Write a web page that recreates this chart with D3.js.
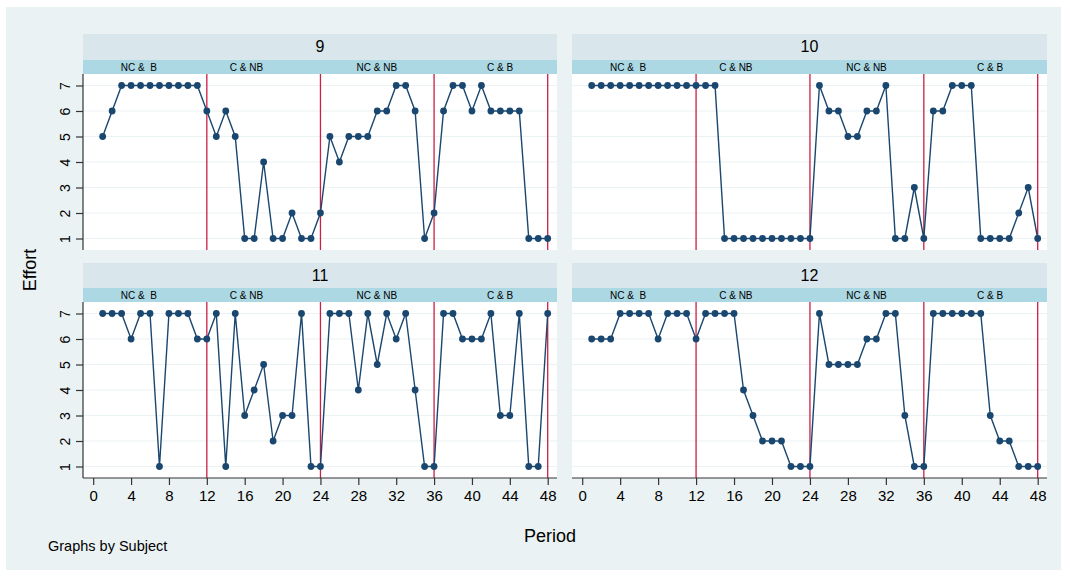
<!DOCTYPE html>
<html lang="en">
<head>
<meta charset="utf-8">
<title>Effort by period</title>
<script src="https://d3js.org/d3.v7.min.js"></script>
<style>
  body { margin: 0; background: #fff; }
  text { font-family: "Liberation Sans", Arial, sans-serif; fill: #000; }
</style>
</head>
<body>
<div id="chart"></div>
<script>
// data: effort per period (1..48) for each subject
const subjects = ["9", "10", "11", "12"];
const periods = d3.range(1, 49);
const effort9  = [5,6,7,7,7,7,7,7,7,7,7,6, 5,6,5,1,1,4,1,1,2,1,1,2, 5,4,5,5,5,6,6,7,7,6,1,2, 6,7,7,6,7,6,6,6,6,1,1,1];
const effort10 = [7,7,7,7,7,7,7,7,7,7,7,7, 7,7,1,1,1,1,1,1,1,1,1,1, 7,6,6,5,5,6,6,7,1,1,3,1, 6,6,7,7,7,1,1,1,1,2,3,1];
const effort11 = [7,7,7,6,7,7,1,7,7,7,6,6, 7,1,7,3,4,5,2,3,3,7,1,1, 7,7,7,4,7,5,7,6,7,4,1,1, 7,7,6,6,6,7,3,3,7,1,1,7];
const effort12 = [6,6,6,7,7,7,7,6,7,7,7,6, 7,7,7,7,4,3,2,2,2,1,1,1, 7,5,5,5,5,6,6,7,7,3,1,1, 7,7,7,7,7,7,3,2,2,1,1,1];
const series = [effort9, effort10, effort11, effort12];
const phaseLabels = ["NC &  B", "C & NB", "NC & NB", "C & B"];
const breaks = [12, 24, 36, 48];
const yTicks = [1, 2, 3, 4, 5, 6, 7];
const xTicks = d3.range(0, 49, 4);

// layout
const W = 1067, H = 575;
const navy = "#1a476f", red = "#cc1f45";
const cols = [{x0: 83, x1: 557}, {x0: 572, x1: 1047}];
const rows = [{top: 34, strip: 60, p0: 74, p1: 250}, {top: 263, strip: 288, p0: 302, p1: 478}];
const labelPos = [0.118, 0.345, 0.62, 0.88];

const svg = d3.select("#chart").append("svg")
  .attr("width", W).attr("height", H);

svg.append("rect").attr("x", 6).attr("y", 7).attr("width", 1055).attr("height", 563)
  .attr("fill", "#eaf2f3");

subjects.forEach((s, i) => {
  const c = cols[i % 2], r = rows[Math.floor(i / 2)];
  const g = svg.append("g");

  const x = d3.scaleLinear().domain([0, 48]).range([c.x0 + 10.2, c.x1 - 9.3]);
  const y = d3.scaleLinear().domain([1, 7]).range([r.p1 - 11.5, r.p0 + 11.5]);

  // header boxes
  g.append("rect").attr("x", c.x0).attr("y", r.top).attr("width", c.x1 - c.x0)
    .attr("height", r.strip - r.top).attr("fill", "#d9e6eb");
  g.append("text").attr("x", (c.x0 + c.x1) / 2).attr("y", r.top + 18)
    .attr("text-anchor", "middle").attr("font-size", 16).text(s);
  g.append("rect").attr("x", c.x0).attr("y", r.strip).attr("width", c.x1 - c.x0)
    .attr("height", r.p0 - r.strip).attr("fill", "#acd8e4");
  phaseLabels.forEach((lab, k) => {
    g.append("text").attr("x", c.x0 + labelPos[k] * (c.x1 - c.x0)).attr("y", r.strip + 10.5)
      .attr("text-anchor", "middle").attr("font-size", 10).attr("xml:space", "preserve").text(lab);
  });

  // plot region
  g.append("rect").attr("x", c.x0).attr("y", r.p0).attr("width", c.x1 - c.x0)
    .attr("height", r.p1 - r.p0).attr("fill", "#fff");
  g.selectAll(".grid").data(yTicks).join("line")
    .attr("x1", c.x0).attr("x2", c.x1)
    .attr("y1", d => y(d)).attr("y2", d => y(d))
    .attr("stroke", "#eaf2f3").attr("stroke-width", 1.2);

  // period break lines
  g.selectAll(".brk").data(breaks).join("line")
    .attr("x1", d => x(d)).attr("x2", d => x(d))
    .attr("y1", r.p0).attr("y2", r.p1)
    .attr("stroke", red).attr("stroke-width", 1.3);

  const pts = periods.map((p, k) => [p, series[i][k]]);
  g.append("path").datum(pts)
    .attr("fill", "none").attr("stroke", navy).attr("stroke-width", 1.4)
    .attr("d", d3.line().x(d => x(d[0])).y(d => y(d[1])));
  g.selectAll(".pt").data(pts).join("circle")
    .attr("cx", d => x(d[0])).attr("cy", d => y(d[1])).attr("r", 3.4)
    .attr("fill", navy);

  // y axis on left column
  if (i % 2 === 0) {
    const ya = g.append("g").attr("transform", `translate(${c.x0},0)`)
      .call(d3.axisLeft(y).tickValues(yTicks).tickSize(7).tickPadding(0).tickFormat(d3.format("d")));
    ya.select(".domain").attr("d", `M0,${r.p0}V${r.p1}`).attr("stroke", "#333").attr("stroke-width", 1.2);
    ya.selectAll(".tick line").attr("stroke", "#333").attr("stroke-width", 1.2);
    ya.selectAll(".tick text")
      .attr("font-size", 14).attr("font-family", "Liberation Sans, Arial, sans-serif")
      .attr("text-anchor", "middle").attr("x", null).attr("dy", null)
      .attr("transform", "translate(-18,0) rotate(-90)")
      .attr("dominant-baseline", "central").attr("fill", "#000");
  }
  // x axis on bottom row
  if (i >= 2) {
    const xa = g.append("g").attr("transform", `translate(0,${r.p1})`)
      .call(d3.axisBottom(x).tickValues(xTicks).tickSize(7).tickPadding(5));
    xa.select(".domain").attr("d", `M${c.x0},0H${c.x1}`).attr("stroke", "#333").attr("stroke-width", 1.2);
    xa.selectAll(".tick line").attr("stroke", "#333").attr("stroke-width", 1.2);
    xa.selectAll(".tick text").attr("font-size", 15)
      .attr("font-family", "Liberation Sans, Arial, sans-serif").attr("fill", "#000");
  }
});

svg.append("text").attr("x", 550).attr("y", 542).attr("text-anchor", "middle")
  .attr("font-size", 18).text("Period");
svg.append("text").attr("transform", "translate(36,270) rotate(-90)")
  .attr("text-anchor", "middle").attr("font-size", 18).text("Effort");
svg.append("text").attr("x", 48).attr("y", 551).attr("font-size", 14.5).text("Graphs by Subject");
</script>
</body>
</html>
